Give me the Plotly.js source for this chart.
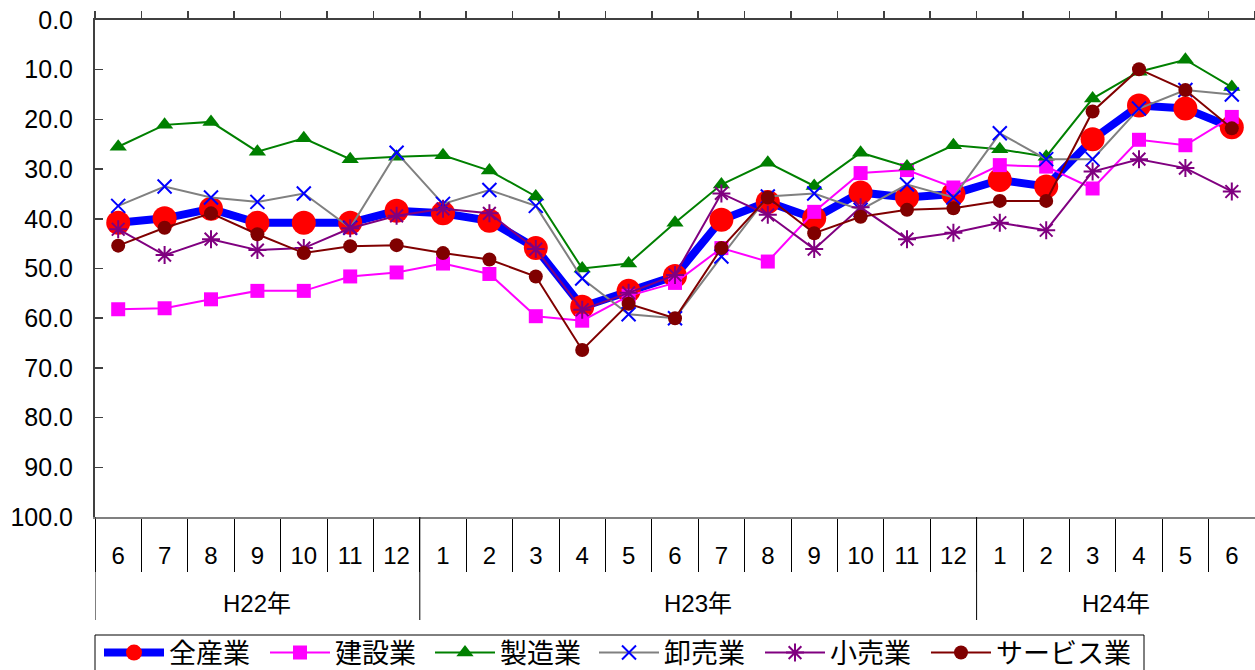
<!DOCTYPE html>
<html><head><meta charset="utf-8">
<script src="https://cdn.plot.ly/plotly-3.0.1.min.js"></script>
<style>html,body{margin:0;padding:0;background:#fff}#chart{width:1255px;height:670px}</style>
</head><body><div id="chart"></div>
<script>
const years = ['H22年','H22年','H22年','H22年','H22年','H22年','H22年',
  'H23年','H23年','H23年','H23年','H23年','H23年','H23年','H23年','H23年','H23年','H23年','H23年',
  'H24年','H24年','H24年','H24年','H24年','H24年'];
const months = ['6','7','8','9','10','11','12','1','2','3','4','5','6','7','8','9','10','11','12','1','2','3','4','5','6'];
const seriesNames = ['全産業','建設業','製造業','卸売業','小売業','サービス業'];
const zensangyo = [40.8,39.9,38.0,40.8,40.8,40.8,38.4, 38.9,40.4,45.9,57.7,54.5,51.5,40.2,36.6,39.9,34.7,35.7,35.0, 32.2,33.5,24.0,17.2,17.8,21.6];
const kensetsu  = [58.2,58.0,56.2,54.5,54.5,51.6,50.8, 49.0,51.1,59.6,60.5,55.5,52.9,45.9,48.6,38.6,30.8,30.2,33.7, 29.2,29.5,33.9,24.1,25.2,19.5];
const seizo     = [25.5,21.1,20.5,26.5,23.8,28.0,27.5, 27.2,30.3,35.5,50.0,49.0,40.8,33.1,28.7,33.4,26.7,29.5,25.2, 26.0,27.5,15.8,10.4,8.0,13.5];
const oroshi    = [37.4,33.5,35.7,36.6,34.9,41.8,26.7, 37.0,34.2,37.4,52.0,59.2,60.0,47.6,35.5,34.9,38.2,33.1,35.7, 22.8,28.0,28.0,17.8,14.1,15.0];
const kouri     = [42.1,47.3,44.1,46.3,45.9,41.9,39.4, 38.0,38.9,46.1,58.3,54.9,51.3,34.9,39.2,46.1,37.7,44.1,42.8, 40.8,42.3,30.5,28.0,29.8,34.5];
const service   = [45.4,41.8,38.9,43.1,46.9,45.5,45.3, 46.9,48.2,51.6,66.4,57.1,60.0,45.9,35.7,42.9,39.6,38.2,37.9, 36.4,36.4,18.4,9.9,14.1,21.8];

const cats = years.map((y,i)=>y+months[i]+'月');
const FONT = 'Liberation Sans, Arial, Noto Sans CJK JP, sans-serif';
const legendIds = ['legend','legend2','legend3','legend4','legend5','legend6'];
const legendLeftPx = [99, 265, 430, 594, 760, 926];

function tr(i, y, lineColor, lineWidth, marker){
  return {type:'scatter', mode:'lines+markers', name:seriesNames[i], x:cats, y:y, legend:legendIds[i],
    line:{color:lineColor, width:lineWidth}, marker:marker, cliponaxis:false};
}
const data = [
  tr(0, zensangyo, '#0000FF', 8, {symbol:'circle', size:24, color:'#FF0000'}),
  tr(1, kensetsu, '#FF00FF', 2, {symbol:'square', size:14, color:'#FF00FF'}),
  tr(2, seizo, '#008000', 2, {symbol:'triangle-up', size:15, color:'#008000'}),
  tr(3, oroshi, '#808080', 2, {symbol:'x-thin', size:14, color:'#0000FF', line:{color:'#0000FF', width:2}}),
  tr(4, kouri, '#800080', 2, {symbol:'asterisk', size:15, color:'#800080', line:{color:'#800080', width:2}}),
  tr(5, service, '#800000', 2, {symbol:'circle', size:14, color:'#800000'})
];

// year groups
const groups = [];
years.forEach((y,i)=>{
  if(!groups.length || groups[groups.length-1].name!==y) groups.push({name:y, start:i, end:i});
  else groups[groups.length-1].end = i;
});
const plotH = 670-20-153, plotW = 1255-95;
const shapes = groups.map(g=>({type:'line', xref:'x', yref:'paper', x0:g.start-0.5, x1:g.start-0.5,
  y0:0, y1:-103/plotH, line:{color:'#000', width:1}}));
// legend frame
shapes.push({type:'rect', xref:'paper', yref:'paper', x0:0, x1:(1144-95)/plotW,
  y0:-(635-517)/plotH, y1:-(673-517)/plotH, line:{color:'#000', width:1}, fillcolor:'rgba(0,0,0,0)'});
const annotations = groups.map(g=>({xref:'x', yref:'paper', x:(g.start+g.end)/2, y:-86/plotH,
  text:g.name, showarrow:false, font:{family:FONT, size:24, color:'#000'}, xanchor:'center', yanchor:'middle'}));

const boundaries = cats.map((c,i)=>i-0.5).concat([cats.length-0.5]);

const layout = {
  width:1255, height:670,
  margin:{l:95, r:0, t:20, b:153},
  paper_bgcolor:'#fff', plot_bgcolor:'#fff',
  showlegend:true,
  font:{family:FONT, color:'#000'},
  xaxis:{type:'category', categoryorder:'array', categoryarray:cats, range:[-0.5, cats.length-0.5],
    tickmode:'array', tickvals:cats, ticktext:months, tickson:'boundaries',
    ticks:'outside', ticklen:53, tickcolor:'#000', tickwidth:1,
    ticklabelstandoff:16,
    showline:true, linecolor:'#808080', linewidth:2, showgrid:false, zeroline:false,
    tickfont:{family:FONT, size:24, color:'#000'}, fixedrange:true},
  xaxis2:{overlaying:'x', side:'top', type:'linear', range:[-0.5, cats.length-0.5],
    tickmode:'array', tickvals:boundaries, showticklabels:false,
    ticks:'outside', ticklen:7, tickcolor:'#404040', tickwidth:1.5,
    showline:true, linecolor:'#404040', linewidth:2, showgrid:false, zeroline:false},
  yaxis:{range:[100,0], autorange:false, tick0:0, dtick:10, tickformat:'.1f',
    ticks:'inside', ticklen:8, tickcolor:'#404040', tickwidth:1.5, ticklabelstandoff:15,
    showline:true, linecolor:'#404040', linewidth:2, showgrid:false, zeroline:false,
    tickfont:{family:FONT, size:25, color:'#000'}},
  shapes:shapes, annotations:annotations
};
legendIds.forEach((id,i)=>{
  layout[id] = {orientation:'h', xref:'paper', x:(legendLeftPx[i]-95)/plotW, xanchor:'left',
    yref:'container', y:(670-653)/670, yanchor:'middle',
    borderwidth:0, bgcolor:'rgba(0,0,0,0)', itemwidth:60,
    font:{family:FONT, size:27, color:'#000'}, itemclick:false, itemdoubleclick:false};
});
// dummy trace to activate top axis
data.push({type:'scatter', x:[0], y:[null], xaxis:'x2', yaxis:'y', showlegend:false, hoverinfo:'skip', mode:'lines'});

Plotly.newPlot('chart', data, layout, {displayModeBar:false, staticPlot:true});
</script>
</body></html>
